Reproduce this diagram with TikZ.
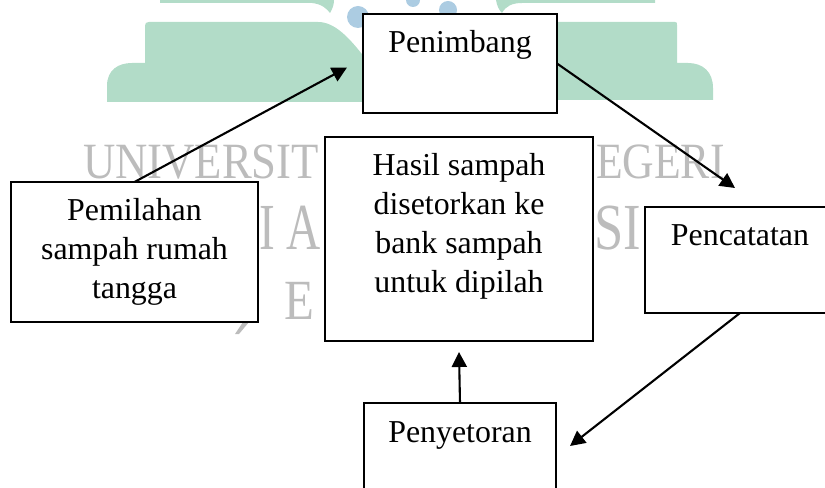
\documentclass[tikz,border=0pt]{standalone}
\usepackage{fontspec}
\setmainfont{Liberation Serif}
\usetikzlibrary{arrows.meta}
\definecolor{wmgreen}{RGB}{178,220,200}
\definecolor{wmblue}{RGB}{172,204,226}
\definecolor{wmgrey}{RGB}{188,188,188}
\newcommand{\boxtext}[2]{\parbox[t]{#1}{\centering #2}}
\begin{document}
\begin{tikzpicture}[x=1bp, y=-1bp, every node/.style={inner sep=0pt, outer sep=0pt},
                    stage/.style={draw, fill=white, line width=1.8bp, anchor=north west,
                      font=\fontsize{32}{39}\selectfont, text height=39bp},
                    flow/.style={line width=2.1bp, -{Triangle[length=15bp,width=15bp]}},
                    wm/.style={text=wmgrey, anchor=base west}]
                  \useasboundingbox (0,0) rectangle (825,488);
                  % watermark behind the chart
                  \fill[wmgreen] (107,102) -- (107,86) .. controls (107,70) and (118,63) .. (132,63)
                    -- (145,63) -- (145,26) .. controls (145,23) and (146,22) .. (149,22) -- (318,22)
                    .. controls (334,22) and (348,36) .. (365,58) -- (365,102) -- cycle;
                  \fill[wmgreen] (555,22) -- (675,22) .. controls (677,22) and (677,23) .. (677,25)
                    -- (677,63) -- (688,63) .. controls (703,63) and (713,72) .. (713,88)
                    -- (713,100) -- (555,100) -- cycle;
                  \fill[wmgreen] (160,0) -- (160,3) -- (312,3) .. controls (322,4) and (327,9) .. (330,13)
                    .. controls (333,8) and (334,4) .. (334,0) -- cycle;
                  \fill[wmgreen] (496,0) .. controls (497,6) and (499,10) .. (502,13)
                    .. controls (506,6) and (512,3) .. (522,3) -- (655,3) -- (655,0) -- cycle;
                  \fill[wmblue] (358,17) circle[radius=11];
                  \fill[wmblue] (413,0) circle[radius=7];
                  \fill[wmblue] (448,10) circle[radius=9];
                  \node[wm, font=\fontsize{51}{51}\selectfont, xscale=.88] (wma) at (83,179) {UNIVERSIT};
                  \node[wm, font=\fontsize{51}{51}\selectfont, xscale=.86] (wmb) at (596,179) {EGERI};
                  \node[wm, font=\fontsize{66}{66}\selectfont, xscale=.72] (wmc) at (259,250) {I A};
                  \node[wm, font=\fontsize{66}{66}\selectfont, xscale=.8] (wmd) at (594,250) {SI};
                  \node[wm, font=\fontsize{57}{57}\selectfont, xscale=.86] (wme) at (284,320) {E};
                  \fill[wmgrey] (243,322) -- (249,322) -- (239,334) -- (235,334) -- cycle;
                  % stages
                  \node[stage, text depth=60bp] (pen) at (363,14) {\boxtext{194bp}{Penimbang}};
                  \node[stage, text depth=101bp] (pil) at (11,182) {\boxtext{247bp}{Pemilahan\\ sampah rumah\\ tangga}};
                  \node[stage, text depth=165bp] (has) at (325,137) {\boxtext{268bp}{Hasil sampah\\ disetorkan ke\\ bank sampah\\ untuk dipilah}};
                  \node[stage, text depth=67bp] (cat) at (645,207) {\boxtext{190bp}{Pencatatan}};
                  \node[stage, text depth=61bp] (sto) at (364,403) {\boxtext{192bp}{Penyetoran}};
                  \draw[flow] (pil.north) -- ([xshift=-16bp,yshift=-4bp]pen.west);
                  \draw[flow] (pen.east) -- ([xshift=-5bp,yshift=19bp]cat.north);
                  \draw[flow] (cat.south) -- ([xshift=14bp,yshift=-43bp]sto.north east);
                  \draw[flow] (sto.north) -- ([yshift=-11bp]has.south);
              \end{tikzpicture}
\end{document}
